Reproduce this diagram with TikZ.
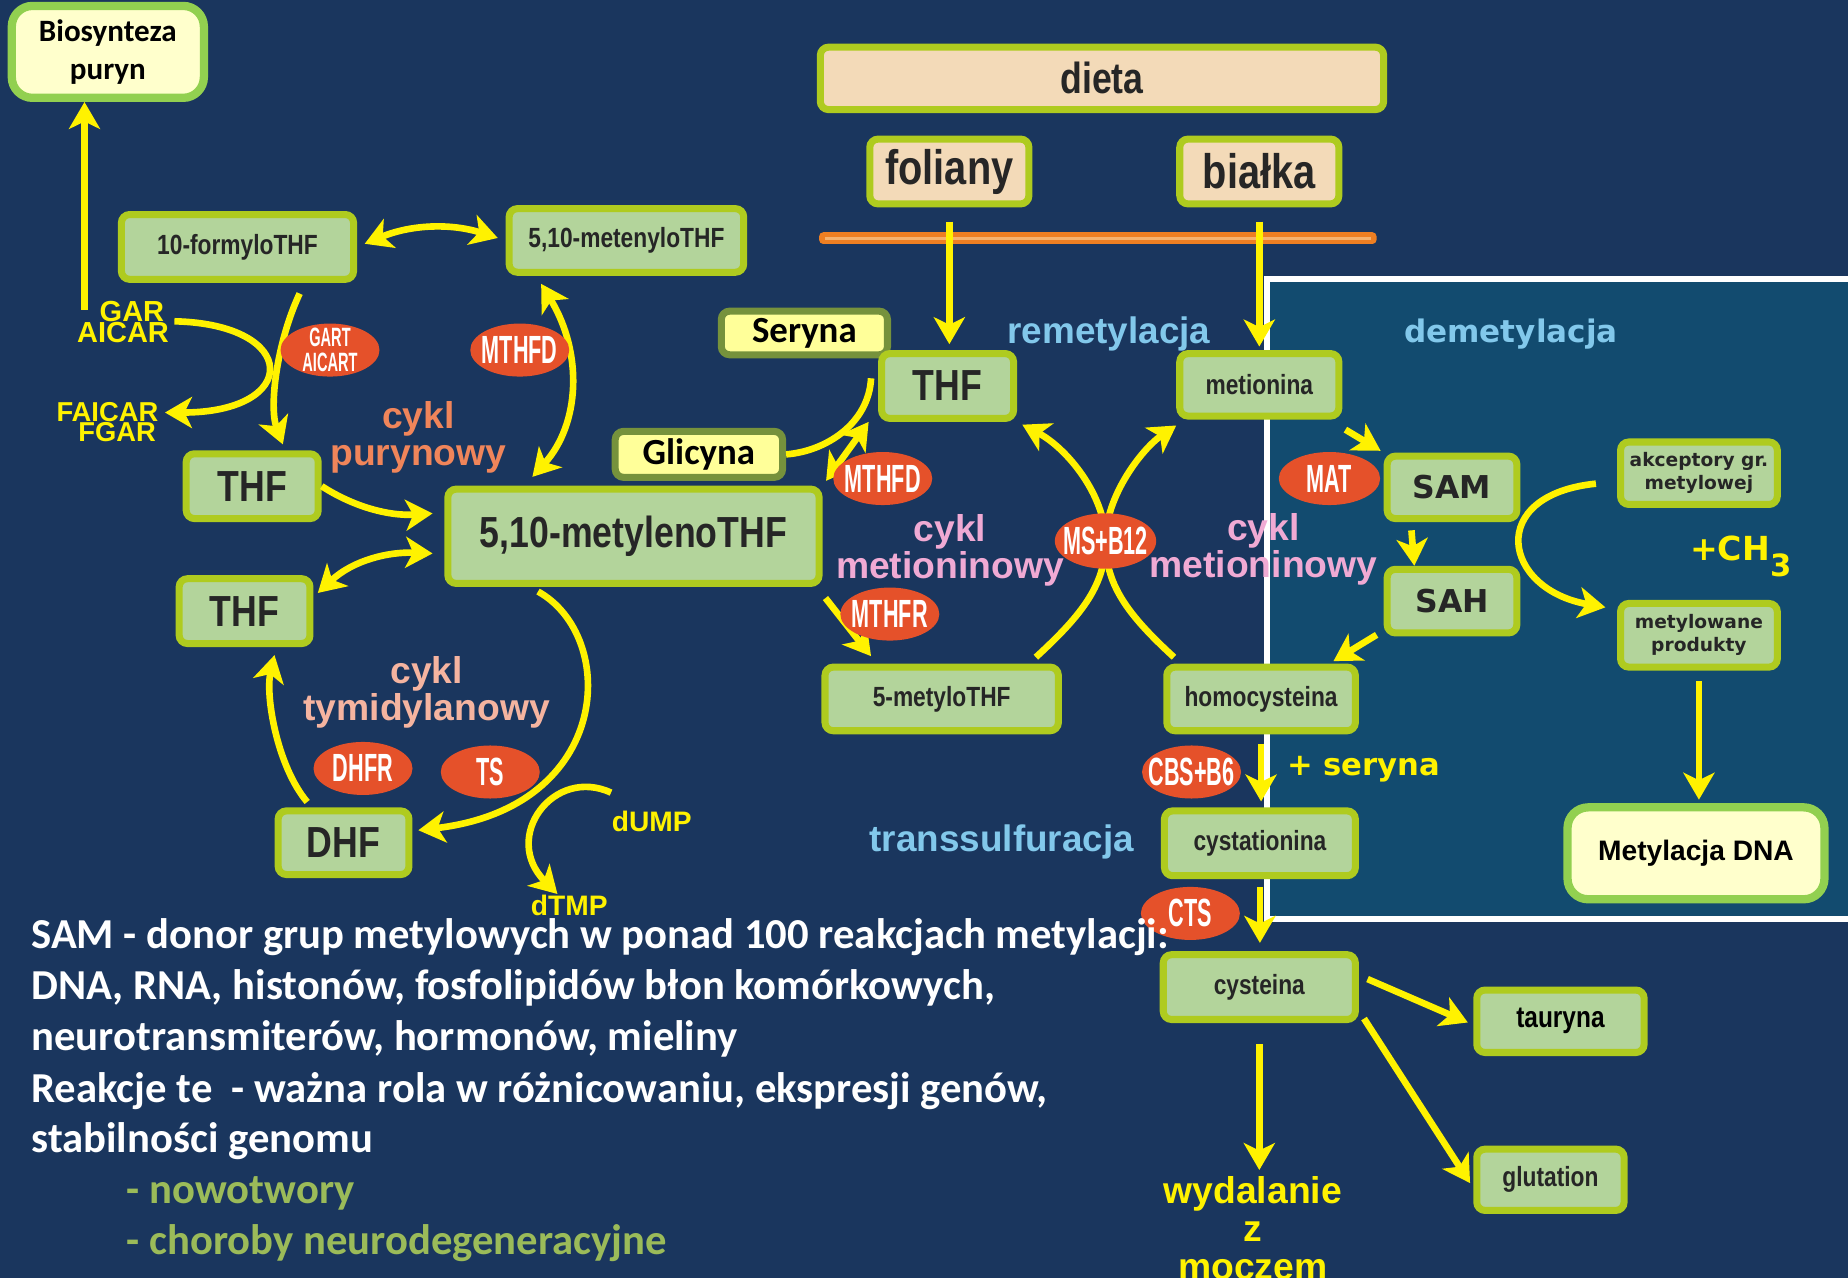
\documentclass[tikz,border=0pt]{standalone}
\usepackage{fontspec}
\setmainfont{Carlito}
\newfontfamily\arialf{Liberation Sans}
\newfontfamily\arialn[FakeStretch=0.82]{Liberation Sans}
\newfontfamily\enzf[FakeStretch=0.55]{Liberation Sans}
\newfontfamily\verdf{DejaVu Sans}
\usetikzlibrary{arrows.meta,shapes.geometric}
\definecolor{navy}{HTML}{1A365E}
\definecolor{panel}{HTML}{124B6F}
\definecolor{boxfill}{HTML}{B3D49B}
\definecolor{boxline}{HTML}{AFCB1F}
\definecolor{peach}{HTML}{F3DAB8}
\definecolor{paleyel}{HTML}{FFFF99}
\definecolor{olive}{HTML}{76923C}
\definecolor{cream}{HTML}{FFFFCC}
\definecolor{lgreen}{HTML}{92D050}
\definecolor{enzred}{HTML}{E5512A}
\definecolor{arryel}{HTML}{FFF200}
\definecolor{cyklor}{HTML}{F0855A}
\definecolor{cyklsal}{HTML}{F5B4A0}
\definecolor{cyklpink}{HTML}{F0AAD4}
\definecolor{skyb}{HTML}{82C8EB}
\definecolor{txtgreen}{HTML}{9BBB59}
\definecolor{barorange}{HTML}{EE7F22}
\definecolor{barlight}{HTML}{F5B26E}
\begin{document}
\begin{tikzpicture}[x=1cm,y=-1cm,
    box/.style={draw=boxline,fill=boxfill,line width=1.7pt,rounded corners=2pt,inner sep=0pt,text=black!85},
    peachbox/.style={box,fill=peach},
    yelbox/.style={draw=olive,fill=paleyel,line width=1.7pt,rounded corners=2pt,inner sep=0pt,text=black,font=\bfseries\fontsize{8.9}{10}\selectfont},
    creambox/.style={draw=lgreen,fill=cream,line width=2pt,rounded corners=5pt,inner sep=0pt,text=black},
    sm/.style={font=\arialn\bfseries\fontsize{6.7}{8}\selectfont},
    lg/.style={font=\arialn\bfseries\fontsize{10.5}{12}\selectfont},
    vd/.style={font=\verdf\bfseries\fontsize{7.6}{9}\selectfont},
    vdsm/.style={font=\verdf\bfseries\fontsize{4.5}{5.6}\selectfont},
    enz/.style={ellipse,fill=enzred,inner sep=-0.4cm,minimum width=0.84cm,minimum height=0.45cm,text=white,font=\enzf\bfseries\fontsize{9.5}{10}\selectfont},
    arr/.style={draw=arryel,line width=1.6pt,>={Stealth[length=6.5pt,width=7.5pt,inset=1.8pt]}},
    ylbl/.style={text=arryel,inner sep=0pt,font=\arialf\bfseries\fontsize{6.8}{8}\selectfont},
    cyc/.style={inner sep=0pt,align=center,font=\arialf\bfseries\fontsize{9}{9.1}\selectfont},
    blbl/.style={text=skyb,inner sep=0pt,font=\arialf\bfseries\fontsize{8.9}{10}\selectfont},
    note/.style={text=white,inner sep=0pt,anchor=base west,font=\bfseries\fontsize{10.3}{12}\selectfont}]
\useasboundingbox (0,0) rectangle (15.68,10.84);
\fill[navy] (0,0) rectangle (15.68,10.84);
\draw[white,line width=1.5pt,fill=panel] (10.75,2.37) rectangle (15.95,7.80);
\fill[barorange,rounded corners=1pt] (6.95,1.97) rectangle (11.68,2.07);
\draw[barlight,line width=0.7pt] (7.0,2.02) -- (11.63,2.02);

\node[creambox,minimum width=1.63cm,minimum height=0.78cm,align=center,font=\bfseries\fontsize{7.5}{9.1}\selectfont] (bio) at (0.915,0.44) {Biosynteza\\puryn};
\node[box,sm,minimum width=1.97cm,minimum height=0.55cm] (formyl) at (2.015,2.095) {10-formyloTHF};
\node[box,sm,minimum width=1.99cm,minimum height=0.54cm] (meten) at (5.315,2.04) {5,10-metenyloTHF};
\node[box,lg,minimum width=1.12cm,minimum height=0.55cm] (thfA) at (2.14,4.125) {THF};
\node[box,lg,minimum width=3.15cm,minimum height=0.80cm] (metyl) at (5.375,4.55) {5,10-metylenoTHF};
\node[box,lg,minimum width=1.11cm,minimum height=0.55cm] (thfB) at (2.075,5.185) {THF};
\node[box,lg,minimum width=1.11cm,minimum height=0.54cm] (dhf) at (2.915,7.15) {DHF};
\node[peachbox,font=\arialn\bfseries\fontsize{10.5}{12}\selectfont,minimum width=4.78cm,minimum height=0.53cm] (dieta) at (9.35,0.665) {dieta};
\node[peachbox,font=\arialn\bfseries\fontsize{11.7}{13}\selectfont,minimum width=1.35cm,minimum height=0.55cm] (foliany) at (8.055,1.455) {foliany};
\node[peachbox,font=\arialn\bfseries\fontsize{11.7}{13}\selectfont,minimum width=1.35cm,minimum height=0.55cm] (bialka) at (10.685,1.455) {białka};
\node[yelbox,minimum width=1.41cm,minimum height=0.37cm] (seryna) at (6.825,2.825) {Seryna};
\node[yelbox,minimum width=1.42cm,minimum height=0.39cm] (glicyna) at (5.93,3.855) {Glicyna};
\node[box,lg,minimum width=1.12cm,minimum height=0.55cm] (thfC) at (8.04,3.275) {THF};
\node[box,sm,minimum width=1.35cm,minimum height=0.53cm] (metionina) at (10.685,3.265) {metionina};
\node[box,vd,minimum width=1.10cm,minimum height=0.53cm] (sam) at (12.32,4.135) {SAM};
\node[box,vd,minimum width=1.10cm,minimum height=0.54cm] (sah) at (12.32,5.10) {SAH};
\node[box,vdsm,align=center,minimum width=1.33cm,minimum height=0.53cm] (akcept) at (14.415,4.015) {akceptory gr.\\metylowej};
\node[box,vdsm,align=center,minimum width=1.33cm,minimum height=0.54cm] (metprod) at (14.415,5.39) {metylowane\\produkty};
\node[creambox,font=\arialf\bfseries\fontsize{6.8}{8}\selectfont,minimum width=2.18cm,minimum height=0.78cm] (mdna) at (14.39,7.24) {Metylacja DNA};
\node[box,sm,minimum width=1.98cm,minimum height=0.54cm] (metylthf) at (7.99,5.93) {5-metyloTHF};
\node[box,sm,minimum width=1.60cm,minimum height=0.54cm] (homocys) at (10.70,5.93) {homocysteina};
\node[box,sm,minimum width=1.62cm,minimum height=0.55cm] (cystat) at (10.69,7.155) {cystationina};
\node[box,sm,minimum width=1.63cm,minimum height=0.55cm] (cyst) at (10.685,8.375) {cysteina};
\node[box,text=black,font=\arialn\bfseries\fontsize{7.2}{8}\selectfont,minimum width=1.42cm,minimum height=0.53cm] (tauryna) at (13.24,8.665) {tauryna};
\node[box,sm,minimum width=1.25cm,minimum height=0.52cm] (glutation) at (13.155,10.01) {glutation};

\node[ylbl,anchor=east,font=\arialf\bfseries\fontsize{7}{8}\selectfont] (gar) at (1.40,2.64) {GAR};
\node[ylbl,anchor=east,font=\arialf\bfseries\fontsize{7}{8}\selectfont] (aicar) at (1.44,2.82) {AICAR};
\node[ylbl,anchor=east,font=\arialf\bfseries\fontsize{6.6}{8}\selectfont] (faicar) at (1.35,3.50) {FAICAR};
\node[ylbl,anchor=east,font=\arialf\bfseries\fontsize{6.6}{8}\selectfont] (fgar) at (1.33,3.67) {FGAR};
\node[ylbl] (dump) at (5.53,6.97) {dUMP};
\node[ylbl] (dtmp) at (4.83,7.68) {dTMP};
\node[ylbl,align=center,font=\arialf\bfseries\fontsize{9}{9.1}\selectfont] (wydal) at (10.63,10.42) {wydalanie\\z\\moczem};
\coordinate (garup) at ([xshift=0.07cm,yshift=0.1cm]aicar.north west);
\coordinate (msc) at (9.38,4.59);

\draw[arr,->] (garup) -- (garup |- bio.south);
\draw[arr,->] ([xshift=0.04cm]aicar.north east) .. controls (2.55,2.75) and (2.55,3.50) .. ([xshift=0.05cm]faicar.east);
\draw[arr,<->,shorten <=0.07cm,shorten >=0.07cm] (formyl.east) to[bend left=20] (meten.west);
\draw[arr,->,shorten <=0.1cm] ([xshift=0.57cm]formyl.south) .. controls (2.35,2.9) and (2.28,3.45) .. ([xshift=0.26cm,yshift=0.05cm]thfA.north);
\draw[arr,<->,shorten <=0.08cm,shorten >=0.1cm] ([xshift=0.26cm]meten.south west) .. controls (4.95,3.0) and (4.92,3.6) .. ([xshift=0.68cm]metyl.north west);
\draw[arr,->,shorten >=0.1cm] (thfA.east) .. controls (3.0,4.3) and (3.3,4.38) .. ([yshift=0.2cm]metyl.west);
\draw[arr,<->,shorten <=0.05cm,shorten >=0.1cm] ([yshift=0.12cm]thfB.east) .. controls (3.0,4.75) and (3.3,4.68) .. ([yshift=-0.15cm]metyl.west);
\draw[arr,->,shorten <=0.08cm,shorten >=0.05cm] ([xshift=-0.88cm]metyl.south) .. controls (5.25,5.4) and (5.2,6.85) .. ([yshift=0.1cm]dhf.east);
\draw[arr,->,shorten <=0.06cm,shorten >=0.07cm] ([xshift=-0.27cm]dhf.north) .. controls (2.35,6.5) and (2.25,5.9) .. ([xshift=0.27cm]thfB.south);
\draw[arr,->] ([yshift=0.15cm]dump.north west) .. controls (4.7,6.5) and (4.25,7.1) .. ([xshift=-0.1cm]dtmp.north);

\draw[arr,->,shorten <=0.12cm,shorten >=0.05cm] (foliany.south) -- (foliany.south |- thfC.north);
\draw[arr,->,shorten <=0.12cm,shorten >=0.03cm] (bialka.south) -- (bialka.south |- metionina.north);
\draw[arr,shorten <=0.17cm] ([xshift=-0.16cm]seryna.south east) .. controls (7.37,3.6) and (7.0,3.83) .. (glicyna.east);
\draw[arr,<->,shorten >=0.05cm] ([xshift=-0.08cm]thfC.south west) -- (metyl.north east);
\draw[arr,->,shorten <=0.12cm,shorten >=0.08cm] ([xshift=-0.05cm]metyl.south east) -- ([xshift=-0.55cm]metylthf.north);
\draw[arr,->,shorten <=0.08cm] ([xshift=0.74cm]metylthf.north) .. controls (9.2,5.2) and (9.38,4.95) .. (msc) .. controls (9.38,4.2) and (9.7,3.8) .. ([yshift=-0.05cm]metionina.south west);
\draw[arr,->,shorten <=0.08cm,shorten >=0.05cm] ([xshift=-0.68cm]homocys.north) .. controls (9.55,5.2) and (9.38,4.95) .. (msc) .. controls (9.38,4.2) and (9.05,3.8) .. (thfC.south east);
\draw[arr,->,shorten <=0.03cm,shorten >=0.03cm] ([yshift=-0.07cm]metionina.south east) -- (sam.north west);
\draw[arr,->,shorten <=0.07cm] ([xshift=-0.35cm]sam.south) -- ([xshift=-0.32cm]sah.north);
\draw[arr,->,shorten <=0.07cm,shorten >=0.04cm] ([yshift=0.05cm]sah.south west) -- ([xshift=0.58cm]homocys.north);
\draw[arr,->,shorten <=0.18cm,shorten >=0.1cm] ([yshift=-0.07cm]akcept.west) .. controls (12.6,4.2) and (12.75,5.0) .. ([yshift=0.22cm]metprod.west);
\draw[arr,->,shorten <=0.09cm,shorten >=0.03cm] (metprod.south) -- (metprod.south |- mdna.north);
\draw[arr,->,shorten <=0.08cm,shorten >=0.05cm] (homocys.south) -- (homocys.south |- cystat.north);
\draw[arr,->,shorten <=0.07cm,shorten >=0.07cm] (cystat.south) -- (cystat.south |- cyst.north);
\draw[arr,->,shorten <=0.08cm,shorten >=0.05cm] ([yshift=0.1cm]cyst.east) -- ([yshift=-0.03cm]tauryna.west);
\draw[arr,->,shorten <=0.08cm,shorten >=0.05cm] ([yshift=-0.2cm]cyst.east) -- ([yshift=-0.07cm]glutation.west);
\draw[arr,->,shorten <=0.18cm,shorten >=0.05cm] (cyst.south) -- (cyst.south |- wydal.north);

\node[enz] (gart) at (2.80,2.97) {};
\node[text=white,inner sep=0pt,align=center,font=\enzf\bfseries\fontsize{6.4}{6}\selectfont] at (gart) {GART\\AICART};
\node[enz] (mthfdA) at (4.41,2.97) {MTHFD};
\node[enz] (dhfr) at (3.08,6.52) {DHFR};
\node[enz] (ts) at (4.16,6.55) {TS};
\node[enz] (mthfdB) at (7.49,4.06) {MTHFD};
\node[enz] (mthfr) at (7.55,5.21) {MTHFR};
\node[enz,minimum width=0.86cm,minimum height=0.47cm] (msb12) at (msc) {MS+B12};
\node[enz,minimum width=0.86cm] (mat) at (11.28,4.06) {MAT};
\node[enz] (cbs) at (10.11,6.55) {CBS+B6};
\node[enz] (cts) at (10.10,7.75) {CTS};

\node[cyc,text=cyklor] (cpur) at (3.55,3.71) {cykl\\purynowy};
\node[cyc,text=cyklsal] (ctym) at (3.62,5.875) {cykl\\tymidylanowy};
\node[cyc,text=cyklpink] (cmetL) at (8.06,4.67) {cykl\\metioninowy};
\node[cyc,text=cyklpink] (cmetR) at (10.72,4.66) {cykl\\metioninowy};
\node[blbl] (remet) at (9.41,2.83) {remetylacja};
\node[blbl,font=\verdf\bfseries\fontsize{7.5}{9}\selectfont] (demet) at (12.82,2.83) {demetylacja};
\node[blbl] (transs) at (8.50,7.14) {transsulfuracja};
\node[ylbl,font=\verdf\bfseries\fontsize{8}{9}\selectfont] (ch3) at (14.77,4.72) {+CH{\fontsize{7.4}{7}\selectfont\raisebox{-1ex}{3}}};
\node[ylbl,font=\verdf\bfseries\fontsize{7.4}{9}\selectfont] (plusser) at (11.57,6.53) {+ seryna};

\node[note] (n1) at (0.26,8.05) {SAM - donor grup metylowych w ponad 100 reakcjach metylacji:};
\node[note] (n2) at (0.26,8.48) {DNA, RNA, histonów, fosfolipidów błon komórkowych,};
\node[note] (n3) at (0.26,8.91) {neurotransmiterów, hormonów, mieliny};
\node[note] (n4) at (0.26,9.35) {Reakcje te \ - ważna rola w różnicowaniu, ekspresji genów,};
\node[note] (n5) at (0.26,9.78) {stabilności genomu};
\node[note,text=txtgreen] (n6) at (1.07,10.21) {- nowotwory};
\node[note,text=txtgreen] (n7) at (1.07,10.64) {- choroby neurodegeneracyjne};
\end{tikzpicture}
\end{document}
